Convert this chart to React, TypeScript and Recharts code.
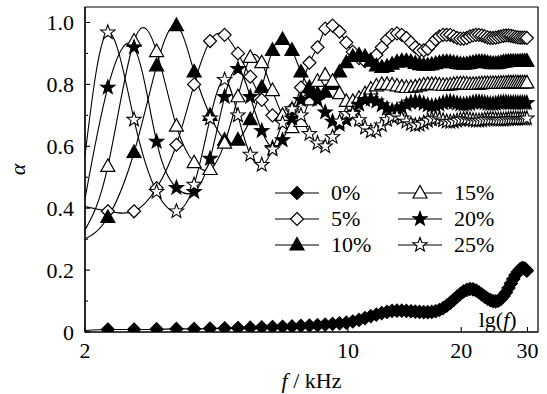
import React from "react"
import { LineChart, Line, XAxis, YAxis, ReferenceArea, ReferenceDot } from "recharts"

// frequency grid in kHz (first point only starts the curves, no marker)
const freq = [2.0, 2.3, 2.7, 3.1, 3.5, 3.9, 4.3, 4.7, 5.1, 5.5, 5.9, 6.3, 6.7, 7.1, 7.5, 7.9, 8.3, 8.7, 9.1, 9.5, 9.9,
  10.3, 10.7, 11.1, 11.5, 11.9, 12.3, 12.7, 13.1, 13.5, 13.9, 14.3, 14.7, 15.1, 15.5, 15.9, 16.3, 16.7, 17.1, 17.5, 17.9,
  18.3, 18.7, 19.1, 19.5, 19.9, 20.3, 20.7, 21.1, 21.5, 21.9, 22.3, 22.7, 23.1, 23.5, 23.9, 24.3, 24.7, 25.1, 25.5, 25.9,
  26.3, 26.7, 27.1, 27.5, 27.9, 28.3, 28.7, 29.1, 29.5, 29.9]

const pct0 = [0.005, 0.008, 0.008, 0.009, 0.010, 0.010, 0.011, 0.012, 0.013, 0.014, 0.015, 0.016, 0.017, 0.018, 0.020, 0.021, 0.022, 0.024, 0.026, 0.028, 0.030,
  0.034, 0.039, 0.045, 0.051, 0.056, 0.061, 0.065, 0.068, 0.069, 0.069, 0.068, 0.067, 0.066, 0.065, 0.064, 0.064, 0.065, 0.067, 0.071, 0.077,
  0.085, 0.094, 0.104, 0.114, 0.123, 0.131, 0.136, 0.139, 0.138, 0.134, 0.128, 0.121, 0.114, 0.108, 0.103, 0.100, 0.099, 0.101, 0.107, 0.116,
  0.128, 0.142, 0.157, 0.171, 0.184, 0.195, 0.203, 0.207, 0.205, 0.198]

const pct5 = [0.405, 0.390, 0.390, 0.465, 0.605, 0.800, 0.940, 0.960, 0.900, 0.825, 0.750, 0.700, 0.690, 0.720, 0.790, 0.870, 0.920, 0.980, 0.990, 0.970, 0.935,
  0.905, 0.885, 0.875, 0.880, 0.895, 0.920, 0.945, 0.960, 0.965, 0.960, 0.950, 0.935, 0.920, 0.910, 0.910, 0.915, 0.930, 0.945, 0.955, 0.960,
  0.960, 0.960, 0.955, 0.950, 0.948, 0.948, 0.950, 0.955, 0.958, 0.960, 0.960, 0.958, 0.955, 0.952, 0.950, 0.950, 0.951, 0.953, 0.955, 0.957,
  0.958, 0.958, 0.957, 0.955, 0.953, 0.952, 0.951, 0.951, 0.951, 0.950]

const pct10 = [0.300, 0.370, 0.580, 0.860, 0.990, 0.840, 0.700, 0.620, 0.620, 0.686, 0.790, 0.910, 0.945, 0.910, 0.840, 0.790, 0.770, 0.775, 0.800, 0.840, 0.870,
  0.890, 0.895, 0.890, 0.875, 0.860, 0.855, 0.858, 0.865, 0.872, 0.876, 0.876, 0.873, 0.868, 0.864, 0.862, 0.862, 0.864, 0.867, 0.870, 0.872,
  0.873, 0.872, 0.870, 0.868, 0.866, 0.865, 0.866, 0.868, 0.870, 0.872, 0.873, 0.873, 0.872, 0.870, 0.868, 0.867, 0.867, 0.868, 0.870, 0.872,
  0.873, 0.874, 0.874, 0.874, 0.874, 0.874, 0.874, 0.875, 0.875, 0.875]

const pct15 = [0.330, 0.535, 0.940, 0.906, 0.665, 0.547, 0.525, 0.610, 0.760, 0.887, 0.870, 0.780, 0.700, 0.660, 0.680, 0.750, 0.810, 0.830, 0.810, 0.770, 0.745,
  0.745, 0.755, 0.770, 0.785, 0.795, 0.800, 0.800, 0.798, 0.795, 0.792, 0.790, 0.790, 0.792, 0.795, 0.798, 0.800, 0.800, 0.800, 0.798, 0.797,
  0.797, 0.798, 0.800, 0.801, 0.802, 0.802, 0.801, 0.800, 0.800, 0.800, 0.801, 0.802, 0.803, 0.803, 0.803, 0.803, 0.803, 0.803, 0.804, 0.804,
  0.804, 0.805, 0.805, 0.805, 0.805, 0.805, 0.805, 0.805, 0.805, 0.805]

const pct20 = [0.430, 0.790, 0.920, 0.615, 0.466, 0.453, 0.560, 0.760, 0.850, 0.760, 0.650, 0.595, 0.620, 0.690, 0.750, 0.770, 0.750, 0.710, 0.680, 0.670, 0.685,
  0.710, 0.735, 0.750, 0.752, 0.745, 0.733, 0.722, 0.715, 0.718, 0.726, 0.735, 0.742, 0.745, 0.743, 0.738, 0.733, 0.730, 0.731, 0.735, 0.740,
  0.743, 0.744, 0.742, 0.739, 0.736, 0.735, 0.736, 0.738, 0.741, 0.743, 0.743, 0.742, 0.740, 0.738, 0.737, 0.737, 0.738, 0.740, 0.741, 0.742,
  0.742, 0.741, 0.740, 0.740, 0.740, 0.740, 0.740, 0.740, 0.740, 0.740]

const pct25 = [0.570, 0.968, 0.686, 0.453, 0.390, 0.476, 0.690, 0.815, 0.700, 0.573, 0.540, 0.590, 0.675, 0.720, 0.700, 0.640, 0.610, 0.600, 0.630, 0.680, 0.705,
  0.705, 0.685, 0.660, 0.648, 0.652, 0.668, 0.685, 0.695, 0.697, 0.690, 0.680, 0.672, 0.668, 0.670, 0.676, 0.683, 0.688, 0.690, 0.688, 0.684,
  0.680, 0.679, 0.680, 0.683, 0.686, 0.688, 0.688, 0.686, 0.684, 0.683, 0.683, 0.684, 0.686, 0.687, 0.688, 0.688, 0.687, 0.686, 0.686, 0.686,
  0.687, 0.688, 0.689, 0.689, 0.689, 0.689, 0.689, 0.689, 0.689, 0.690]

const xTicks = [2, 10, 20, 30]
const yTicks = [0, 0.1, 0.2, 0.3, 0.4, 0.5, 0.6, 0.7, 0.8, 0.9, 1.0]

const seriesDefs = [
  { key: "p0", label: "0%", shape: "diamond", filled: true },
  { key: "p5", label: "5%", shape: "diamond", filled: false },
  { key: "p10", label: "10%", shape: "triangle", filled: true },
  { key: "p15", label: "15%", shape: "triangle", filled: false },
  { key: "p20", label: "20%", shape: "star", filled: true },
  { key: "p25", label: "25%", shape: "star", filled: false },
]

const data = freq.map((f, i) => ({
  f,
  p0: pct0[i],
  p5: pct5[i],
  p10: pct10[i],
  p15: pct15[i],
  p20: pct20[i],
  p25: pct25[i],
}))

const FONT = "Liberation Serif"

function Marker({ shape, filled, cx, cy }: { shape: string; filled: boolean; cx: number; cy: number }) {
  const fill = filled ? "#000" : "#fff"
  if (shape === "diamond") {
    const s = 6.5
    return <polygon points={`${cx},${cy - s} ${cx + s},${cy} ${cx},${cy + s} ${cx - s},${cy}`} fill={fill} stroke="#000" strokeWidth={1.2} />
  }
  if (shape === "triangle") {
    return <polygon points={`${cx},${cy - 7.5} ${cx + 7},${cy + 5} ${cx - 7},${cy + 5}`} fill={fill} stroke="#000" strokeWidth={1.2} />
  }
  const pts: string[] = []
  for (let k = 0; k < 10; k++) {
    const r = k % 2 === 0 ? 7.5 : 3.1
    const a = -Math.PI / 2 + (k * Math.PI) / 5
    pts.push(`${cx + r * Math.cos(a)},${cy + r * Math.sin(a)}`)
  }
  return <polygon points={pts.join(" ")} fill={fill} stroke="#000" strokeWidth={1.1} />
}

const makeDot = (shape: string, filled: boolean, name: string) => (props: any) => {
  const { cx, cy, index } = props
  if (index === 0 || cx == null || cy == null) return <g key={`${name}-${index}`} />
  return (
    <g key={`${name}-${index}`}>
      <Marker shape={shape} filled={filled} cx={cx} cy={cy} />
    </g>
  )
}

const YTick = (props: any) => {
  const { x, y, payload } = props
  const v = payload.value
  const ax = x + 11
  const major = Math.round(v * 10) % 2 === 0
  return (
    <g>
      <line x1={ax} x2={ax + (major ? 5 : 3)} y1={y} y2={y} stroke="#000" strokeWidth={1.1} />
      {major && (
        <text x={x} y={y} dy="0.36em" textAnchor="end" fontFamily={FONT} fontSize={22} fill="#000">
          {v === 0 ? "0" : v.toFixed(1)}
        </text>
      )}
    </g>
  )
}

const XTick = (props: any) => {
  const { x, y, payload } = props
  const ay = y - 10
  return (
    <g>
      <line x1={x} x2={x} y1={ay} y2={ay - 5} stroke="#000" strokeWidth={1.1} />
      <text x={x} y={y} dy="0.72em" textAnchor="middle" fontFamily={FONT} fontSize={22} fill="#000">
        {payload.value}
      </text>
    </g>
  )
}

const XLabel = (props: any) => {
  const { x, width, y } = props.viewBox
  return (
    <text x={x + width / 2} y={y + 56} textAnchor="middle" fontFamily={FONT} fontSize={22} fill="#000">
      <tspan fontStyle="italic">f</tspan>
      <tspan> / kHz</tspan>
    </text>
  )
}

const YLabel = (props: any) => {
  const { x, y, height } = props.viewBox
  const cx = x + 17
  const cy = y + height / 2
  return (
    <text x={cx} y={cy} textAnchor="middle" dominantBaseline="central" transform={`rotate(-90 ${cx} ${cy})`} fontFamily={FONT} fontSize={22} fontStyle="italic" fill="#000">
      α
    </text>
  )
}

const LgLabel = (props: any) => {
  const { x, y } = props.viewBox
  return (
    <text x={x} y={y} dy="0.35em" textAnchor="middle" fontFamily={FONT} fontSize={22} fill="#000">
      lg(<tspan fontStyle="italic">f</tspan>)
    </text>
  )
}

function LegendBox() {
  const rows = [
    [seriesDefs[0], seriesDefs[3]],
    [seriesDefs[1], seriesDefs[4]],
    [seriesDefs[2], seriesDefs[5]],
  ]
  return (
    <div style={{ position: "absolute", left: 275, top: 180, fontFamily: FONT, fontSize: 22 }}>
      {rows.map((row, r) => (
        <div key={r} style={{ display: "flex", height: 26, alignItems: "center" }}>
          {row.map((s) => (
            <div key={s.key} style={{ display: "flex", alignItems: "center", width: 123 }}>
              <svg width={44} height={20}>
                <line x1={0} x2={44} y1={10} y2={10} stroke="#000" strokeWidth={1.2} />
                <Marker shape={s.shape} filled={s.filled} cx={22} cy={10} />
              </svg>
              <span style={{ marginLeft: 12, lineHeight: "20px" }}>{s.label}</span>
            </div>
          ))}
        </div>
      ))}
    </div>
  )
}

export default function App() {
  return (
    <div style={{ position: "absolute", left: 0, top: 0, width: 547, height: 394, background: "#fff" }}>
      <LineChart width={547} height={394} data={data} margin={{ top: 7, right: 9, bottom: 0, left: 0 }}>
        <XAxis
          dataKey="f"
          type="number"
          scale="log"
          domain={[2, 32]}
          allowDataOverflow
          ticks={xTicks}
          tick={<XTick />}
          tickSize={0}
          tickMargin={10}
          tickLine={false}
          height={62}
          axisLine={{ stroke: "#000", strokeWidth: 1.2 }}
          label={<XLabel />}
        />
        <YAxis
          type="number"
          domain={[0, 1.05]}
          allowDataOverflow
          ticks={yTicks}
          tick={<YTick />}
          tickSize={0}
          tickMargin={11}
          tickLine={false}
          width={85}
          axisLine={{ stroke: "#000", strokeWidth: 1.2 }}
          label={<YLabel />}
        />
        <ReferenceArea x1={2} x2={32} y1={0} y2={1.05} fill="none" stroke="#000" strokeWidth={1.2} ifOverflow="visible" />
        {seriesDefs.map((s) => (
          <Line
            key={s.key}
            dataKey={s.key}
            type="natural"
            stroke="#000"
            strokeWidth={1.1}
            dot={makeDot(s.shape, s.filled, s.key)}
            activeDot={false}
            isAnimationActive={false}
          />
        ))}
        <ReferenceDot x={25} y={0.04} r={0} fill="none" stroke="none" label={<LgLabel />} ifOverflow="visible" />
      </LineChart>
      <LegendBox />
    </div>
  )
}
